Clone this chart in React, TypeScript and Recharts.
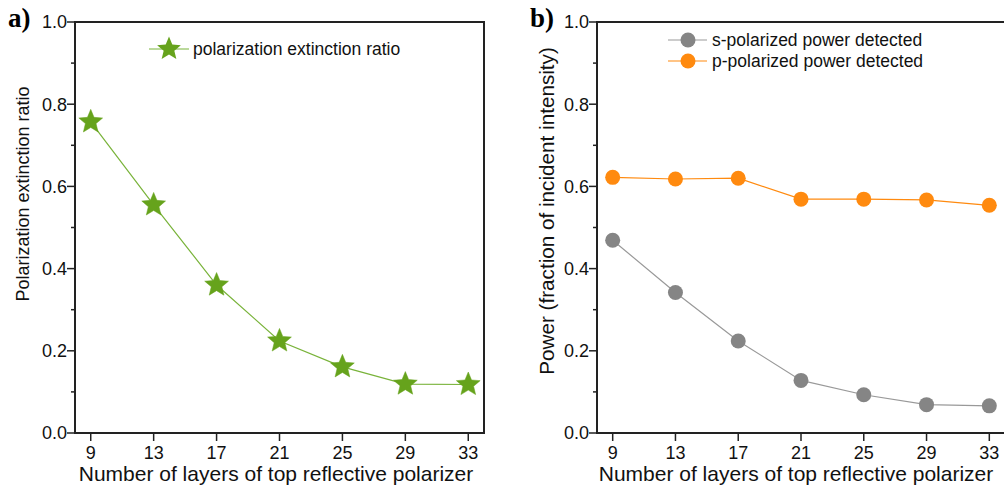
import React from 'react';
import { LineChart, Line, XAxis, YAxis, ReferenceArea } from 'recharts';

// ---- data ----
const layers = [9, 13, 17, 21, 25, 29, 33];
const extinctionRatio = [0.757, 0.555, 0.36, 0.224, 0.161, 0.119, 0.118];
const sPolarized = [0.469, 0.342, 0.224, 0.128, 0.093, 0.069, 0.066];
const pPolarized = [0.622, 0.618, 0.62, 0.569, 0.569, 0.567, 0.554];
const xTicks = [9, 13, 17, 21, 25, 29, 33];
const yTicks = [0, 0.1, 0.2, 0.3, 0.4, 0.5, 0.6, 0.7, 0.8, 0.9, 1.0];

const dataA = layers.map((n, i) => ({ n, ratio: extinctionRatio[i] }));
const dataB = layers.map((n, i) => ({ n, s: sPolarized[i], p: pPolarized[i] }));

const SANS = '"Liberation Sans", Arial, sans-serif';
const SERIF = '"Liberation Serif", "Times New Roman", serif';
const AXIS = '#222';
const GREEN = '#66a31c';
const GREEN_LINE = '#79b33a';
const ORANGE = '#ff8a0f';
const GRAY = '#858585';
const GRAY_LINE = '#999999';

const starPoints = (cx: number, cy: number, R: number, r: number) => {
  const pts: string[] = [];
  for (let i = 0; i < 10; i++) {
    const rad = i % 2 === 0 ? R : r;
    const a = -Math.PI / 2 + (i * Math.PI) / 5;
    pts.push(`${cx + rad * Math.cos(a)},${cy + rad * Math.sin(a)}`);
  }
  return pts.join(' ');
};

const StarDot = (props: any) => {
  const { cx, cy } = props;
  if (cx == null || cy == null) return null;
  return <polygon points={starPoints(cx, cy, 12.5, 5.6)} fill={GREEN} stroke={GREEN} strokeWidth={0.5} />;
};

const YTick = (props: any) => {
  const { x, y, payload } = props;
  const v = payload.value as number;
  const major = Math.round(v * 10) % 2 === 0;
  return (
    <g>
      <line x1={x - (major ? 8 : 4)} x2={x} y1={y} y2={y} stroke={AXIS} strokeWidth={1.5} />
      {major && (
        <text x={x - 8} y={y} dy="0.36em" textAnchor="end" fontSize={18} fontFamily={SANS} fill="#111">
          {v.toFixed(1)}
        </text>
      )}
    </g>
  );
};

const XTick = (props: any) => {
  const { x, y, payload } = props;
  return (
    <g>
      <line x1={x} x2={x} y1={y} y2={y + 8} stroke={AXIS} strokeWidth={1.5} />
      <text x={x} y={y + 26} textAnchor="middle" fontSize={18} fontFamily={SANS} fill="#111">
        {payload.value}
      </text>
    </g>
  );
};

const axisCommon = {
  tickSize: 0,
  tickMargin: 0,
  axisLine: { stroke: AXIS, strokeWidth: 2 },
  tickLine: false,
};

export default function App() {
  return (
    <div style={{ position: 'absolute', left: 0, top: 0, width: 1004, height: 486, overflow: 'hidden', background: '#fff' }}>
      <div style={{ position: 'absolute', left: 0, top: 0 }}>
        <LineChart width={500} height={486} data={dataA} margin={{ top: 22, right: 16, left: 0, bottom: 0 }}>
          <XAxis
            dataKey="n"
            type="number"
            domain={[8, 34]}
            ticks={xTicks}
            height={53}
            tick={<XTick />}
            {...axisCommon}
          />
          <YAxis type="number" domain={[0, 1]} ticks={yTicks} width={75} tick={<YTick />} {...axisCommon} />
          <ReferenceArea x1={8} x2={34} y1={0} y2={1} fill="none" stroke={AXIS} strokeWidth={2} ifOverflow="visible" />
          <Line
            dataKey="ratio"
            stroke={GREEN_LINE}
            strokeWidth={1.2}
            dot={<StarDot />}
            isAnimationActive={false}
          />
        </LineChart>
      </div>
      <div style={{ position: 'absolute', left: 522, top: 0 }}>
        <LineChart width={488} height={486} data={dataB} margin={{ top: 22, right: 5, left: 0, bottom: 0 }}>
          <XAxis
            dataKey="n"
            type="number"
            domain={[8, 34]}
            ticks={xTicks}
            height={53}
            tick={<XTick />}
            {...axisCommon}
          />
          <YAxis type="number" domain={[0, 1]} ticks={yTicks} width={75} tick={<YTick />} {...axisCommon} />
          <ReferenceArea x1={8} x2={34} y1={0} y2={1} fill="none" stroke={AXIS} strokeWidth={2} ifOverflow="visible" />
          <Line
            dataKey="s"
            stroke={GRAY_LINE}
            strokeWidth={1.2}
            dot={{ r: 7.5, fill: GRAY, stroke: GRAY, strokeWidth: 0 }}
            isAnimationActive={false}
          />
          <Line
            dataKey="p"
            stroke={ORANGE}
            strokeWidth={1.2}
            dot={{ r: 7.5, fill: ORANGE, stroke: ORANGE, strokeWidth: 0 }}
            isAnimationActive={false}
          />
        </LineChart>
      </div>
      <svg
        width={1004}
        height={486}
        style={{ position: 'absolute', left: 0, top: 0, pointerEvents: 'none' }}
      >
        {/* panel labels */}
        <text x={8} y={27} fontFamily={SERIF} fontWeight="bold" fontSize={27} fill="#000">a)</text>
        <text x={530} y={27} fontFamily={SERIF} fontWeight="bold" fontSize={27} fill="#000">b)</text>

        {/* axis titles */}
        <text transform="rotate(-90)" x={-194} y={29} textAnchor="middle" fontFamily={SANS} fontSize={18} fill="#111">
          Polarization extinction ratio
        </text>
        <text transform="rotate(-90)" x={-211} y={554} textAnchor="middle" fontFamily={SANS} fontSize={20.7} fill="#111">
          Power (fraction of incident intensity)
        </text>
        <text x={276} y={481} textAnchor="middle" fontFamily={SANS} fontSize={21} fill="#111">
          Number of layers of top reflective polarizer
        </text>
        <text x={796} y={481} textAnchor="middle" fontFamily={SANS} fontSize={21} fill="#111">
          Number of layers of top reflective polarizer
        </text>

        {/* legend a */}
        <line x1={149} x2={189} y1={49} y2={49} stroke={GREEN_LINE} strokeWidth={1.2} />
        <polygon points={starPoints(169, 49, 12.5, 5.6)} fill={GREEN} />
        <text x={193} y={49} dy="0.36em" fontFamily={SANS} fontSize={17.5} fill="#111">
          polarization extinction ratio
        </text>

        {/* legend b */}
        <line x1={668} x2={707} y1={40} y2={40} stroke={GRAY_LINE} strokeWidth={1.2} />
        <circle cx={688} cy={40} r={7.5} fill={GRAY} />
        <text x={712} y={40} dy="0.36em" fontFamily={SANS} fontSize={17.5} fill="#111">
          s-polarized power detected
        </text>
        <line x1={668} x2={707} y1={61} y2={61} stroke={ORANGE} strokeWidth={1.2} />
        <circle cx={688} cy={61} r={7.5} fill={ORANGE} />
        <text x={712} y={61} dy="0.36em" fontFamily={SANS} fontSize={17.5} fill="#111">
          p-polarized power detected
        </text>
      </svg>
    </div>
  );
}
